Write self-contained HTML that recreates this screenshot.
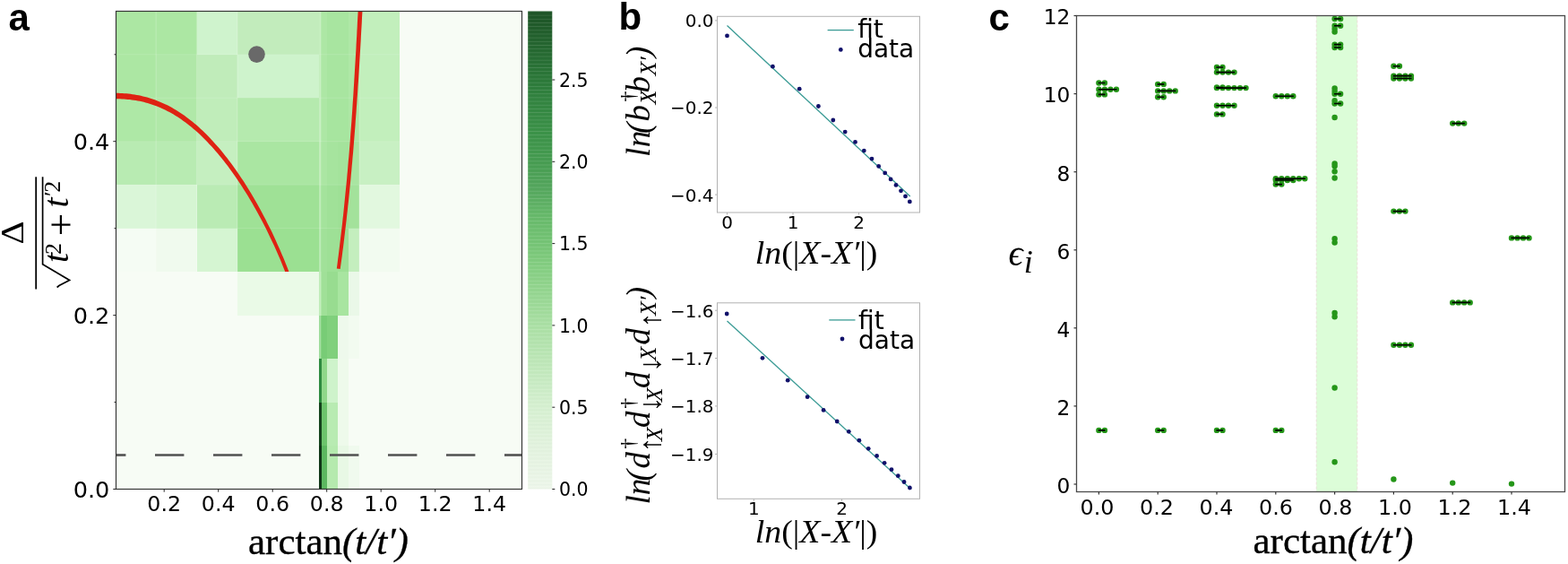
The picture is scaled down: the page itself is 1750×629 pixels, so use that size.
<!DOCTYPE html>
<html lang="en"><head><meta charset="utf-8"><title>Figure</title>
<style>html,body{margin:0;padding:0;background:#fff;overflow:hidden}svg{display:block}</style>
</head><body>
<svg width="1750" height="629" viewBox="0 0 1750 629">
<rect width="1750" height="629" fill="#ffffff"/>
<g id="panel-a">
<rect x="129.5" y="12.5" width="453.0" height="533.0" fill="#f7fcf5"/>
<g shape-rendering="crispEdges">
<rect x="128.75" y="12.27" width="45.38" height="48.48" fill="#ace7a3"/>
<rect x="174.12" y="12.27" width="45.38" height="48.48" fill="#ace7a3"/>
<rect x="219.50" y="12.27" width="45.38" height="48.48" fill="#cff3cd"/>
<rect x="264.88" y="12.27" width="45.38" height="48.48" fill="#c2ecbc"/>
<rect x="310.25" y="12.27" width="45.38" height="48.48" fill="#c2ecbc"/>
<rect x="401.00" y="12.27" width="45.38" height="48.48" fill="#c2efbc"/>
<rect x="355.62" y="12.27" width="3.03" height="48.48" fill="#b6ebaf"/>
<rect x="358.65" y="12.27" width="6.05" height="48.48" fill="#ade7a5"/>
<rect x="364.70" y="12.27" width="12.10" height="48.48" fill="#a8e5a0"/>
<rect x="376.80" y="12.27" width="12.10" height="48.48" fill="#a8e5a0"/>
<rect x="388.90" y="12.27" width="12.10" height="48.48" fill="#aee8a6"/>
<rect x="128.75" y="60.75" width="45.38" height="48.47" fill="#ace7a3"/>
<rect x="174.12" y="60.75" width="45.38" height="48.47" fill="#b0e7a8"/>
<rect x="219.50" y="60.75" width="45.38" height="48.47" fill="#c0ecba"/>
<rect x="264.88" y="60.75" width="45.38" height="48.47" fill="#cef3cc"/>
<rect x="310.25" y="60.75" width="45.38" height="48.47" fill="#cef3cc"/>
<rect x="401.00" y="60.75" width="45.38" height="48.47" fill="#c2efbc"/>
<rect x="355.62" y="60.75" width="3.03" height="48.47" fill="#b6ebaf"/>
<rect x="358.65" y="60.75" width="6.05" height="48.47" fill="#ade7a5"/>
<rect x="364.70" y="60.75" width="12.10" height="48.47" fill="#a8e5a0"/>
<rect x="376.80" y="60.75" width="12.10" height="48.47" fill="#a8e5a0"/>
<rect x="388.90" y="60.75" width="12.10" height="48.47" fill="#aee8a6"/>
<rect x="128.75" y="109.22" width="45.38" height="48.48" fill="#aee8a6"/>
<rect x="174.12" y="109.22" width="45.38" height="48.48" fill="#b0e8a8"/>
<rect x="219.50" y="109.22" width="45.38" height="48.48" fill="#c0edba"/>
<rect x="264.88" y="109.22" width="45.38" height="48.48" fill="#b5eaae"/>
<rect x="310.25" y="109.22" width="45.38" height="48.48" fill="#b5eaae"/>
<rect x="401.00" y="109.22" width="45.38" height="48.48" fill="#c2efbc"/>
<rect x="355.62" y="109.22" width="3.03" height="48.48" fill="#b6ebaf"/>
<rect x="358.65" y="109.22" width="6.05" height="48.48" fill="#ade7a5"/>
<rect x="364.70" y="109.22" width="12.10" height="48.48" fill="#a7e59f"/>
<rect x="376.80" y="109.22" width="12.10" height="48.48" fill="#a7e59f"/>
<rect x="388.90" y="109.22" width="12.10" height="48.48" fill="#ade7a5"/>
<rect x="128.75" y="157.70" width="45.38" height="48.47" fill="#b8ebb2"/>
<rect x="174.12" y="157.70" width="45.38" height="48.47" fill="#b8ebb2"/>
<rect x="219.50" y="157.70" width="45.38" height="48.47" fill="#c5efc0"/>
<rect x="264.88" y="157.70" width="45.38" height="48.47" fill="#aae6a2"/>
<rect x="310.25" y="157.70" width="45.38" height="48.47" fill="#aae6a2"/>
<rect x="401.00" y="157.70" width="45.38" height="48.47" fill="#c8f0c3"/>
<rect x="355.62" y="157.70" width="3.03" height="48.47" fill="#b2e9aa"/>
<rect x="358.65" y="157.70" width="6.05" height="48.47" fill="#abe6a3"/>
<rect x="364.70" y="157.70" width="12.10" height="48.47" fill="#a6e49e"/>
<rect x="376.80" y="157.70" width="12.10" height="48.47" fill="#a4e39c"/>
<rect x="388.90" y="157.70" width="12.10" height="48.47" fill="#a9e5a1"/>
<rect x="128.75" y="206.17" width="45.38" height="48.48" fill="#daf6d8"/>
<rect x="174.12" y="206.17" width="45.38" height="48.48" fill="#d5f5d2"/>
<rect x="219.50" y="206.17" width="45.38" height="48.48" fill="#baebb4"/>
<rect x="264.88" y="206.17" width="45.38" height="48.48" fill="#9fe196"/>
<rect x="310.25" y="206.17" width="45.38" height="48.48" fill="#9fe196"/>
<rect x="401.00" y="206.17" width="45.38" height="48.48" fill="#e2f8df"/>
<rect x="355.62" y="206.17" width="3.03" height="48.48" fill="#aae6a2"/>
<rect x="358.65" y="206.17" width="6.05" height="48.48" fill="#a4e39c"/>
<rect x="364.70" y="206.17" width="12.10" height="48.48" fill="#a0e198"/>
<rect x="376.80" y="206.17" width="12.10" height="48.48" fill="#9ee096"/>
<rect x="388.90" y="206.17" width="12.10" height="48.48" fill="#a3e29b"/>
<rect x="128.75" y="254.65" width="45.38" height="48.48" fill="#f5fcf4"/>
<rect x="174.12" y="254.65" width="45.38" height="48.48" fill="#f0faee"/>
<rect x="219.50" y="254.65" width="45.38" height="48.48" fill="#d5f5d2"/>
<rect x="264.88" y="254.65" width="45.38" height="48.48" fill="#9be092"/>
<rect x="310.25" y="254.65" width="45.38" height="48.48" fill="#9be092"/>
<rect x="401.00" y="254.65" width="45.38" height="48.48" fill="#f2fbf0"/>
<rect x="355.62" y="254.65" width="3.03" height="48.48" fill="#a7e49f"/>
<rect x="358.65" y="254.65" width="6.05" height="48.48" fill="#a1e199"/>
<rect x="364.70" y="254.65" width="12.10" height="48.48" fill="#9ee096"/>
<rect x="376.80" y="254.65" width="12.10" height="48.48" fill="#9de095"/>
<rect x="388.90" y="254.65" width="12.10" height="48.48" fill="#c4eebe"/>
<rect x="264.88" y="303.12" width="45.38" height="48.48" fill="#eafae7"/>
<rect x="310.25" y="303.12" width="45.38" height="48.48" fill="#eafae7"/>
<rect x="355.62" y="303.12" width="3.03" height="48.48" fill="#b0e8a8"/>
<rect x="358.65" y="303.12" width="6.05" height="48.48" fill="#a0e098"/>
<rect x="364.70" y="303.12" width="12.10" height="48.48" fill="#98dc90"/>
<rect x="376.80" y="303.12" width="12.10" height="48.48" fill="#a8e5a0"/>
<rect x="388.90" y="303.12" width="12.10" height="48.48" fill="#eaf8e8"/>
<rect x="355.62" y="351.60" width="3.03" height="48.47" fill="#86d482"/>
<rect x="358.65" y="351.60" width="6.05" height="48.47" fill="#78cc76"/>
<rect x="364.70" y="351.60" width="12.10" height="48.47" fill="#80d07c"/>
<rect x="376.80" y="351.60" width="12.10" height="48.47" fill="#eef9ec"/>
<rect x="388.90" y="351.60" width="12.10" height="48.47" fill="#f2fbf0"/>
<rect x="355.62" y="400.07" width="3.03" height="48.47" fill="#2e8b40"/>
<rect x="358.65" y="400.07" width="6.05" height="48.47" fill="#90d88a"/>
<rect x="364.70" y="400.07" width="12.10" height="48.47" fill="#cef3cb"/>
<rect x="376.80" y="400.07" width="12.10" height="48.47" fill="#eefaeb"/>
<rect x="355.62" y="448.55" width="3.03" height="48.48" fill="#14421c"/>
<rect x="358.65" y="448.55" width="6.05" height="48.48" fill="#6cc46c"/>
<rect x="364.70" y="448.55" width="12.10" height="48.48" fill="#b8ebb2"/>
<rect x="376.80" y="448.55" width="12.10" height="48.48" fill="#eefaeb"/>
<rect x="355.62" y="497.02" width="3.03" height="48.48" fill="#0f3516"/>
<rect x="358.65" y="497.02" width="6.05" height="48.48" fill="#5cb860"/>
<rect x="364.70" y="497.02" width="12.10" height="48.48" fill="#b5eaae"/>
<rect x="376.80" y="497.02" width="12.10" height="48.48" fill="#e8f8e5"/>
<rect x="388.90" y="497.02" width="12.10" height="48.48" fill="#f0faee"/>
</g>
<g stroke="#ffffff" stroke-opacity="0.28" stroke-width="0.8">
<line x1="174.12" y1="12.5" x2="174.12" y2="303.12"/>
<line x1="219.50" y1="12.5" x2="219.50" y2="303.12"/>
<line x1="264.88" y1="12.5" x2="264.88" y2="303.12"/>
<line x1="401.00" y1="12.5" x2="401.00" y2="303.12"/>
<line x1="357.14" y1="12.5" x2="357.14" y2="400.08" stroke-width="1.6"/>
<line x1="129.5" y1="60.75" x2="446.38" y2="60.75" stroke-opacity="0.16"/>
<line x1="129.5" y1="109.22" x2="446.38" y2="109.22" stroke-opacity="0.16"/>
<line x1="129.5" y1="157.70" x2="446.38" y2="157.70" stroke-opacity="0.16"/>
<line x1="129.5" y1="206.17" x2="446.38" y2="206.17" stroke-opacity="0.16"/>
<line x1="129.5" y1="254.65" x2="446.38" y2="254.65" stroke-opacity="0.16"/>
</g>
<g stroke="#505050" stroke-width="2.6">
<line x1="129.5" y1="507.5" x2="140.4" y2="507.5"/>
<line x1="173.0" y1="507.5" x2="205.4" y2="507.5"/>
<line x1="238.0" y1="507.5" x2="270.4" y2="507.5"/>
<line x1="303.0" y1="507.5" x2="335.4" y2="507.5"/>
<line x1="368.0" y1="507.5" x2="400.4" y2="507.5"/>
<line x1="433.0" y1="507.5" x2="465.4" y2="507.5"/>
<line x1="498.0" y1="507.5" x2="530.4" y2="507.5"/>
<line x1="563.0" y1="507.5" x2="582.5" y2="507.5"/>
</g>
<clipPath id="clipa"><rect x="129.5" y="12.5" width="453.0" height="290.5"/></clipPath>
<g clip-path="url(#clipa)">
<polygon fill="#de2213" points="122.7,110.2 124.9,110.2 127.1,110.2 129.4,110.3 131.7,110.3 133.9,110.3 136.1,110.4 138.3,110.5 140.5,110.7 142.7,110.9 144.9,111.1 147.1,111.4 149.3,111.7 151.6,112.0 153.8,112.4 156.0,112.8 158.2,113.3 160.4,113.8 162.6,114.4 164.8,115.0 167.0,115.7 169.2,116.4 171.4,117.2 173.6,118.0 175.8,118.8 178.1,119.7 180.3,120.7 182.5,121.7 184.7,122.8 186.9,123.9 189.1,125.1 191.4,126.3 193.6,127.6 195.8,128.9 198.0,130.3 200.3,131.8 202.5,133.3 204.7,134.9 207.0,136.5 209.2,138.2 211.4,140.0 213.7,141.8 215.9,143.7 218.1,145.6 220.4,147.6 222.6,149.6 224.9,151.8 227.1,153.9 229.4,156.2 231.6,158.5 233.8,160.9 236.1,163.3 238.3,165.8 240.6,168.4 242.9,171.0 245.1,173.7 247.4,176.5 249.6,179.3 251.9,182.2 254.1,185.1 256.4,188.2 258.6,191.3 260.9,194.4 263.2,197.7 265.4,201.0 267.7,204.4 269.9,207.8 272.2,211.4 274.5,215.0 276.7,218.6 279.0,222.4 281.3,226.3 283.5,230.2 285.8,234.2 288.0,238.3 290.3,242.5 292.6,246.7 294.8,251.1 297.1,255.6 299.4,260.2 301.6,264.9 303.9,269.7 306.2,274.6 308.4,279.6 310.7,284.8 313.0,290.1 315.2,295.6 317.5,301.3 319.8,307.2 322.0,313.7 325.7,312.4 323.5,305.9 321.2,299.8 318.9,294.1 316.7,288.6 314.4,283.2 312.2,278.0 309.9,272.9 307.7,267.9 305.4,263.1 303.2,258.3 300.9,253.7 298.6,249.2 296.4,244.8 294.1,240.4 291.9,236.2 289.6,232.1 287.4,228.0 285.1,224.0 282.8,220.1 280.6,216.3 278.3,212.6 276.1,208.9 273.8,205.3 271.6,201.8 269.3,198.4 267.0,195.0 264.8,191.7 262.5,188.5 260.2,185.3 258.0,182.3 255.7,179.2 253.5,176.3 251.2,173.4 248.9,170.6 246.7,167.8 244.4,165.1 242.1,162.5 239.8,159.9 237.6,157.4 235.3,155.0 233.0,152.6 230.8,150.3 228.5,148.0 226.2,145.8 223.9,143.7 221.6,141.6 219.4,139.6 217.1,137.7 214.8,135.8 212.5,133.9 210.2,132.2 207.9,130.5 205.7,128.8 203.4,127.2 201.1,125.7 198.8,124.2 196.5,122.8 194.2,121.4 191.9,120.1 189.6,118.8 187.3,117.6 185.0,116.5 182.7,115.4 180.4,114.4 178.1,113.4 175.7,112.5 173.4,111.6 171.1,110.7 168.8,110.0 166.5,109.2 164.2,108.6 161.9,107.9 159.6,107.4 157.2,106.8 154.9,106.3 152.6,105.9 150.3,105.5 148.0,105.2 145.7,104.8 143.4,104.6 141.0,104.3 138.7,104.2 136.4,104.0 134.1,103.9 131.8,103.8 129.5,103.8 127.3,103.7 125.0,103.6 122.7,103.6"/>
<polygon fill="#de2213" points="399.9,4.9 399.7,9.9 399.5,14.9 399.2,19.9 398.9,24.9 398.7,29.9 398.4,34.9 398.2,39.8 397.9,44.8 397.6,49.8 397.4,54.8 397.1,59.8 396.8,64.8 396.5,69.8 396.2,74.8 395.9,79.8 395.6,84.8 395.3,89.8 395.0,94.8 394.7,99.8 394.4,104.8 394.1,109.8 393.7,114.8 393.4,119.8 393.1,124.8 392.7,129.8 392.4,134.7 392.0,139.7 391.6,144.7 391.2,149.7 390.9,154.7 390.5,159.7 390.1,164.7 389.7,169.7 389.3,174.7 388.8,179.7 388.4,184.7 388.0,189.7 387.5,194.7 387.1,199.7 386.6,204.7 386.1,209.7 385.6,214.6 385.1,219.6 384.6,224.6 384.1,229.6 383.6,234.6 383.1,239.6 382.5,244.6 382.0,249.6 381.4,254.6 380.8,259.6 380.2,264.6 379.6,269.6 379.0,274.6 378.4,279.6 377.8,284.5 377.1,289.5 376.5,294.5 375.8,299.5 379.7,300.1 380.4,295.1 381.1,290.1 381.8,285.1 382.4,280.1 383.1,275.1 383.7,270.1 384.3,265.1 384.9,260.1 385.5,255.1 386.1,250.1 386.7,245.1 387.2,240.1 387.8,235.1 388.3,230.1 388.9,225.1 389.4,220.1 389.9,215.1 390.4,210.1 390.9,205.1 391.4,200.1 391.8,195.1 392.3,190.1 392.7,185.1 393.2,180.1 393.6,175.1 394.1,170.1 394.5,165.1 394.9,160.1 395.3,155.1 395.7,150.1 396.1,145.1 396.5,140.1 396.8,135.1 397.2,130.1 397.6,125.1 397.9,120.1 398.3,115.1 398.6,110.1 399.0,105.1 399.3,100.1 399.6,95.1 400.0,90.1 400.3,85.1 400.6,80.1 400.9,75.1 401.2,70.1 401.5,65.1 401.8,60.1 402.1,55.1 402.4,50.1 402.7,45.1 402.9,40.1 403.2,35.1 403.5,30.1 403.8,25.1 404.0,20.1 404.3,15.1 404.6,10.1 404.8,5.1"/>
</g>
<circle cx="286.5" cy="60.6" r="9.3" fill="#696969"/>
<rect x="129.5" y="12.5" width="453.0" height="533.0" fill="none" stroke="#333" stroke-width="1.15"/>
<g stroke="#222" stroke-width="1">
<line x1="183.2" y1="545.5" x2="183.2" y2="548.7"/>
<line x1="243.7" y1="545.5" x2="243.7" y2="548.7"/>
<line x1="304.2" y1="545.5" x2="304.2" y2="548.7"/>
<line x1="364.7" y1="545.5" x2="364.7" y2="548.7"/>
<line x1="425.2" y1="545.5" x2="425.2" y2="548.7"/>
<line x1="485.7" y1="545.5" x2="485.7" y2="548.7"/>
<line x1="546.2" y1="545.5" x2="546.2" y2="548.7"/>
<line x1="129.5" y1="545.5" x2="126.3" y2="545.5"/>
<line x1="129.5" y1="351.6" x2="126.3" y2="351.6"/>
<line x1="129.5" y1="157.7" x2="126.3" y2="157.7"/>
<line x1="129.5" y1="448.6" x2="127.5" y2="448.6"/>
<line x1="129.5" y1="254.7" x2="127.5" y2="254.7"/>
<line x1="129.5" y1="60.8" x2="127.5" y2="60.8"/>
</g>
<g font-family="'DejaVu Sans','Liberation Sans',sans-serif" font-size="22.8" text-anchor="middle" fill="#000">
<text transform="translate(183.2,570.2) scale(1.04,1)">0.2</text>
<text transform="translate(243.7,570.2) scale(1.04,1)">0.4</text>
<text transform="translate(304.2,570.2) scale(1.04,1)">0.6</text>
<text transform="translate(364.7,570.2) scale(1.04,1)">0.8</text>
<text transform="translate(425.2,570.2) scale(1.04,1)">1.0</text>
<text transform="translate(485.7,570.2) scale(1.04,1)">1.2</text>
<text transform="translate(546.2,570.2) scale(1.04,1)">1.4</text>
</g>
<g font-family="'DejaVu Sans','Liberation Sans',sans-serif" font-size="24.6" text-anchor="end" fill="#000">
<text transform="translate(122.3,554.6) scale(1.04,1)">0.0</text>
<text transform="translate(122.3,360.7) scale(1.04,1)">0.2</text>
<text transform="translate(122.3,166.8) scale(1.04,1)">0.4</text>
</g>
<text x="9.5" y="34" font-family="'Liberation Sans','DejaVu Sans',sans-serif" font-weight="bold" font-size="42">a</text>
<text x="277" y="618" font-family="'Liberation Serif','DejaVu Serif',serif" font-size="43" stroke="#000" stroke-width="0.35">arctan<tspan font-style="italic">(t/t′)</tspan></text>
<g transform="translate(0,0)">
<line x1="40.2" y1="197.3" x2="40.2" y2="322.5" stroke="#000" stroke-width="1.8"/>
<path d="M63.6 320.5 L66 318.5 L77.6 312.5 L47.6 294.8 L47.6 197.3" fill="none" stroke="#000" stroke-width="1.7" stroke-linejoin="miter"/>
<g font-family="'Liberation Serif','DejaVu Serif',serif" fill="#000">
<text transform="translate(26.2,272.6) rotate(-90) scale(1.14,1)" font-size="35.5">Δ</text>
<text transform="translate(76.3,293) rotate(-90)" font-size="40" font-style="italic">t</text>
<text transform="translate(67.6,284) rotate(-90)" font-size="26">2</text>
<text transform="translate(83.2,263.2) rotate(-90)" font-size="45">+</text>
<text transform="translate(76.3,231.5) rotate(-90)" font-size="40" font-style="italic">t</text>
<text transform="translate(67.4,220.5) rotate(-90)" font-size="26"><tspan font-style="italic">′</tspan>2</text>
</g></g>
<defs><linearGradient id="cb" x1="0" y1="1" x2="0" y2="0">
<stop offset="0.0000" stop-color="#edf6ea"/>
<stop offset="0.0853" stop-color="#e3f3df"/>
<stop offset="0.1706" stop-color="#d6f0d1"/>
<stop offset="0.3413" stop-color="#abe0a5"/>
<stop offset="0.4608" stop-color="#86cf83"/>
<stop offset="0.5119" stop-color="#76c576"/>
<stop offset="0.5734" stop-color="#66b96a"/>
<stop offset="0.6280" stop-color="#55a75e"/>
<stop offset="0.6826" stop-color="#479d52"/>
<stop offset="0.7406" stop-color="#3c9349"/>
<stop offset="0.8191" stop-color="#328340"/>
<stop offset="0.8532" stop-color="#2c7a3a"/>
<stop offset="1.0000" stop-color="#1d5326"/>
</linearGradient>
<pattern id="stripe" width="8" height="4.172" patternUnits="userSpaceOnUse"><rect width="8" height="0.8" fill="#fff" fill-opacity="0.13"/><rect y="2.1" width="8" height="0.6" fill="#000" fill-opacity="0.025"/></pattern></defs>
<rect x="589.2" y="12.5" width="27.09999999999991" height="533.0" fill="url(#cb)"/>
<rect x="589.2" y="12.5" width="27.09999999999991" height="533.0" fill="url(#stripe)"/>
<g stroke="#222" stroke-width="1">
<line x1="616.3" y1="545.5" x2="619.3" y2="545.5"/>
<line x1="616.3" y1="454.2" x2="619.3" y2="454.2"/>
<line x1="616.3" y1="362.9" x2="619.3" y2="362.9"/>
<line x1="616.3" y1="271.6" x2="619.3" y2="271.6"/>
<line x1="616.3" y1="180.3" x2="619.3" y2="180.3"/>
<line x1="616.3" y1="89.0" x2="619.3" y2="89.0"/>
</g>
<g font-family="'DejaVu Sans','Liberation Sans',sans-serif" font-size="20.5" fill="#000">
<text x="624" y="553.1">0.0</text>
<text x="624" y="461.8">0.5</text>
<text x="624" y="370.5">1.0</text>
<text x="624" y="279.2">1.5</text>
<text x="624" y="187.9">2.0</text>
<text x="624" y="96.6">2.5</text>
</g>
</g>
<g id="panel-b">
<text x="690.5" y="32.6" font-family="'Liberation Sans','DejaVu Sans',sans-serif" font-weight="bold" font-size="42">b</text>
<rect x="800.5" y="18.3" width="226.0" height="218.7" fill="#fff" stroke="#b2b2b2" stroke-width="1"/>
<line x1="811.5" y1="28.5" x2="1015.8" y2="218.9" stroke="#3a9b95" stroke-width="1.3"/>
<g fill="#10106a">
<circle cx="811.5" cy="39.9" r="2.4"/>
<circle cx="862.4" cy="74.2" r="2.4"/>
<circle cx="892.2" cy="99.2" r="2.4"/>
<circle cx="913.4" cy="118.5" r="2.4"/>
<circle cx="929.8" cy="134" r="2.4"/>
<circle cx="943.2" cy="147.1" r="2.4"/>
<circle cx="954.5" cy="158.4" r="2.4"/>
<circle cx="964.3" cy="168.1" r="2.4"/>
<circle cx="973.0" cy="177.1" r="2.4"/>
<circle cx="980.7" cy="185.4" r="2.4"/>
<circle cx="987.7" cy="192.9" r="2.4"/>
<circle cx="994.1" cy="199.9" r="2.4"/>
<circle cx="1000.0" cy="206.4" r="2.4"/>
<circle cx="1005.5" cy="212.8" r="2.4"/>
<circle cx="1010.5" cy="218.9" r="2.4"/>
<circle cx="1015.3" cy="224.9" r="2.4"/>
</g>
<g stroke="#b2b2b2" stroke-width="1">
<line x1="811.5" y1="237.0" x2="811.5" y2="239.5"/>
<line x1="885" y1="237.0" x2="885" y2="239.5"/>
<line x1="958.5" y1="237.0" x2="958.5" y2="239.5"/>
<line x1="800.5" y1="22.9" x2="798.0" y2="22.9"/>
<line x1="800.5" y1="120" x2="798.0" y2="120"/>
<line x1="800.5" y1="217.1" x2="798.0" y2="217.1"/>
</g>
<g font-family="'DejaVu Sans','Liberation Sans',sans-serif" font-size="20" fill="#000" text-anchor="middle">
<text x="811.5" y="255.4">0</text>
<text x="885" y="255.4">1</text>
<text x="958.5" y="255.4">2</text>
</g>
<g font-family="'DejaVu Sans','Liberation Sans',sans-serif" font-size="20" fill="#000" text-anchor="end">
<text x="796.5" y="30.3">0.0</text>
<text x="796.5" y="127.4">−0.2</text>
<text x="796.5" y="224.5">−0.4</text>
</g>
<line x1="923.6" y1="33.6" x2="952.8" y2="33.6" stroke="#3a9b95" stroke-width="1.3"/>
<circle cx="938.3" cy="55.4" r="2.4" fill="#10106a"/>
<text x="957.2" y="42.0" font-family="'DejaVu Sans','Liberation Sans',sans-serif" font-size="28">fit</text>
<text x="957.2" y="63.6" font-family="'DejaVu Sans','Liberation Sans',sans-serif" font-size="28">data</text>
<text transform="translate(842.8,294.4) scale(1.035,1)" font-family="'Liberation Serif','DejaVu Serif',serif" font-size="36.5"><tspan font-style="italic">ln</tspan>(|<tspan font-style="italic">X-X′</tspan>|)</text>
<g transform="translate(724.8,175.1) rotate(-90)" font-family="'Liberation Serif','DejaVu Serif',serif" fill="#000">
<text x="0.0" y="0.0" font-size="37" font-style="italic">l</text>
<text x="10.8" y="0.0" font-size="37" font-style="italic">n</text>
<text x="26.1" y="0.0" font-size="37" font-style="italic">(</text>
<text x="39.5" y="0.0" font-size="37" font-style="italic">b</text>
<text x="58.6" y="7.2" font-size="26" font-style="italic">X</text>
<text x="61.5" y="-15.5" font-size="24">†</text>
<text x="71.6" y="0.0" font-size="37" font-style="italic">b</text>
<text x="90.6" y="7.2" font-size="26" font-style="italic">X</text>
<text x="106.2" y="7.2" font-size="26" font-style="italic">′</text>
<text x="111.2" y="0.0" font-size="37" font-style="italic">)</text>
</g>
<rect x="800.5" y="337.8" width="226.0" height="218.49999999999994" fill="#fff" stroke="#b2b2b2" stroke-width="1"/>
<line x1="811.5" y1="358.1" x2="1015" y2="544" stroke="#3a9b95" stroke-width="1.3"/>
<g fill="#10106a">
<circle cx="811.2" cy="350" r="2.4"/>
<circle cx="851.0" cy="399.3" r="2.4"/>
<circle cx="879.2" cy="424.2" r="2.4"/>
<circle cx="901.1" cy="442.7" r="2.4"/>
<circle cx="919.1" cy="457.4" r="2.4"/>
<circle cx="934.2" cy="470" r="2.4"/>
<circle cx="947.3" cy="481.3" r="2.4"/>
<circle cx="958.9" cy="491.2" r="2.4"/>
<circle cx="969.2" cy="500.3" r="2.4"/>
<circle cx="978.6" cy="508.4" r="2.4"/>
<circle cx="987.1" cy="516.3" r="2.4"/>
<circle cx="995.0" cy="523.7" r="2.4"/>
<circle cx="1002.3" cy="530.7" r="2.4"/>
<circle cx="1009.0" cy="537.5" r="2.4"/>
<circle cx="1015.4" cy="544" r="2.4"/>
</g>
<g stroke="#b2b2b2" stroke-width="1">
<line x1="841.3" y1="556.3" x2="841.3" y2="558.8"/>
<line x1="939.5" y1="556.3" x2="939.5" y2="558.8"/>
<line x1="800.5" y1="346.2" x2="798.0" y2="346.2"/>
<line x1="800.5" y1="399.5" x2="798.0" y2="399.5"/>
<line x1="800.5" y1="452.9" x2="798.0" y2="452.9"/>
<line x1="800.5" y1="506.4" x2="798.0" y2="506.4"/>
</g>
<g font-family="'DejaVu Sans','Liberation Sans',sans-serif" font-size="20" fill="#000" text-anchor="middle">
<text x="841.3" y="574">1</text>
<text x="939.5" y="574">2</text>
</g>
<g font-family="'DejaVu Sans','Liberation Sans',sans-serif" font-size="20" fill="#000" text-anchor="end">
<text x="796.5" y="353.6">−1.6</text>
<text x="796.5" y="406.9">−1.7</text>
<text x="796.5" y="460.3">−1.8</text>
<text x="796.5" y="513.8">−1.9</text>
</g>
<line x1="925.3000000000001" y1="356.9" x2="954.5" y2="356.9" stroke="#3a9b95" stroke-width="1.3"/>
<circle cx="940.0" cy="378.0" r="2.4" fill="#10106a"/>
<text x="958.0500000000001" y="367.0" font-family="'DejaVu Sans','Liberation Sans',sans-serif" font-size="28">fit</text>
<text x="958.0500000000001" y="389.2" font-family="'DejaVu Sans','Liberation Sans',sans-serif" font-size="28">data</text>
<text transform="translate(842.8,604.6) scale(1.035,1)" font-family="'Liberation Serif','DejaVu Serif',serif" font-size="36.5"><tspan font-style="italic">ln</tspan>(|<tspan font-style="italic">X-X′</tspan>|)</text>
<g transform="translate(724.8,562.5) rotate(-90)" font-family="'Liberation Serif','DejaVu Serif',serif" fill="#000">
<text x="0.0" y="0.0" font-size="37" font-style="italic">l</text>
<text x="10.2" y="0.0" font-size="37" font-style="italic">n</text>
<text x="26.1" y="0.0" font-size="37" font-style="italic">(</text>
<text x="40.1" y="0.0" font-size="37" font-style="italic">d</text>
<text x="61.8" y="-15.5" font-size="24">†</text>
<text x="58.0" y="11.7" font-size="34">↑</text>
<text x="70.3" y="14.2" font-size="26" font-style="italic">X</text>
<text x="85.6" y="0.0" font-size="37" font-style="italic">d</text>
<text x="106.7" y="-15.5" font-size="24">†</text>
<text x="102.9" y="11.7" font-size="34">↓</text>
<text x="114.3" y="14.2" font-size="26" font-style="italic">X</text>
<text x="129.6" y="0.0" font-size="37" font-style="italic">d</text>
<text x="147.4" y="11.7" font-size="34">↓</text>
<text x="160.1" y="7.2" font-size="26" font-style="italic">X</text>
<text x="176.2" y="7.2" font-size="26" font-style="italic">′</text>
<text x="178.1" y="0.0" font-size="37" font-style="italic">d</text>
<text x="196.9" y="11.7" font-size="34">↑</text>
<text x="210.6" y="7.2" font-size="26" font-style="italic">X</text>
<text x="226.3" y="7.2" font-size="26" font-style="italic">′</text>
<text x="230.3" y="0.0" font-size="37" font-style="italic">)</text>
</g>
</g>
<g id="panel-c">
<text x="1103.5" y="34" font-family="'Liberation Sans','DejaVu Sans',sans-serif" font-weight="bold" font-size="42">c</text>
<rect x="1469.2" y="17.5" width="45.6" height="531.0" fill="#dcfdd8"/>
<g stroke="#e9d9d4" stroke-width="0.8" stroke-dasharray="3 2"><line x1="1469.2" y1="17.5" x2="1469.2" y2="548.5"/><line x1="1514.8" y1="17.5" x2="1514.8" y2="548.5"/></g>
<clipPath id="clipc"><rect x="1201.5" y="17.5" width="545.0" height="531.0"/></clipPath>
<g clip-path="url(#clipc)">
<g fill="#259619">
<circle cx="1226.4" cy="92.5" r="3.2"/>
<circle cx="1232.9" cy="92.5" r="3.2"/>
<circle cx="1226.4" cy="99.8" r="3.2"/>
<circle cx="1232.9" cy="99.8" r="3.2"/>
<circle cx="1239.4" cy="99.8" r="3.2"/>
<circle cx="1245.9" cy="99.8" r="3.2"/>
<circle cx="1226.4" cy="105.4" r="3.2"/>
<circle cx="1232.9" cy="105.4" r="3.2"/>
<circle cx="1226.4" cy="479.9" r="3.2"/>
<circle cx="1232.9" cy="479.9" r="3.2"/>
<circle cx="1292.2" cy="93.9" r="3.2"/>
<circle cx="1298.7" cy="93.9" r="3.2"/>
<circle cx="1292.2" cy="101.4" r="3.2"/>
<circle cx="1298.7" cy="101.4" r="3.2"/>
<circle cx="1305.2" cy="101.4" r="3.2"/>
<circle cx="1311.7" cy="101.4" r="3.2"/>
<circle cx="1292.2" cy="108.3" r="3.2"/>
<circle cx="1298.7" cy="108.3" r="3.2"/>
<circle cx="1292.2" cy="479.9" r="3.2"/>
<circle cx="1298.7" cy="479.9" r="3.2"/>
<circle cx="1358.0" cy="75" r="3.2"/>
<circle cx="1364.5" cy="75" r="3.2"/>
<circle cx="1358.0" cy="80.6" r="3.2"/>
<circle cx="1364.5" cy="80.6" r="3.2"/>
<circle cx="1371.0" cy="80.6" r="3.2"/>
<circle cx="1377.5" cy="80.6" r="3.2"/>
<circle cx="1358.0" cy="98.1" r="3.2"/>
<circle cx="1364.5" cy="98.1" r="3.2"/>
<circle cx="1371.0" cy="98.1" r="3.2"/>
<circle cx="1377.5" cy="98.1" r="3.2"/>
<circle cx="1384.0" cy="98.1" r="3.2"/>
<circle cx="1390.5" cy="98.1" r="3.2"/>
<circle cx="1358.0" cy="97.5" r="3.2"/>
<circle cx="1364.5" cy="97.5" r="3.2"/>
<circle cx="1358.0" cy="117.7" r="3.2"/>
<circle cx="1364.5" cy="117.7" r="3.2"/>
<circle cx="1371.0" cy="117.7" r="3.2"/>
<circle cx="1377.5" cy="117.7" r="3.2"/>
<circle cx="1358.0" cy="127.4" r="3.2"/>
<circle cx="1364.5" cy="127.4" r="3.2"/>
<circle cx="1358.0" cy="479.9" r="3.2"/>
<circle cx="1364.5" cy="479.9" r="3.2"/>
<circle cx="1423.8" cy="107.3" r="3.2"/>
<circle cx="1430.3" cy="107.3" r="3.2"/>
<circle cx="1436.8" cy="107.3" r="3.2"/>
<circle cx="1443.3" cy="107.3" r="3.2"/>
<circle cx="1423.8" cy="199.3" r="3.2"/>
<circle cx="1430.3" cy="199.3" r="3.2"/>
<circle cx="1436.8" cy="199.3" r="3.2"/>
<circle cx="1443.3" cy="199.3" r="3.2"/>
<circle cx="1449.8" cy="199.3" r="3.2"/>
<circle cx="1456.3" cy="199.3" r="3.2"/>
<circle cx="1423.8" cy="201" r="3.2"/>
<circle cx="1430.3" cy="201" r="3.2"/>
<circle cx="1436.8" cy="201" r="3.2"/>
<circle cx="1443.3" cy="201" r="3.2"/>
<circle cx="1423.8" cy="205.6" r="3.2"/>
<circle cx="1430.3" cy="205.6" r="3.2"/>
<circle cx="1423.8" cy="479.9" r="3.2"/>
<circle cx="1430.3" cy="479.9" r="3.2"/>
<circle cx="1489.6" cy="21" r="3.2"/>
<circle cx="1496.1" cy="21" r="3.2"/>
<circle cx="1489.6" cy="28.7" r="3.2"/>
<circle cx="1496.1" cy="28.7" r="3.2"/>
<circle cx="1489.6" cy="49.6" r="3.2"/>
<circle cx="1496.1" cy="49.6" r="3.2"/>
<circle cx="1489.6" cy="53" r="3.2"/>
<circle cx="1496.1" cy="53" r="3.2"/>
<circle cx="1489.6" cy="104.8" r="3.2"/>
<circle cx="1496.1" cy="104.8" r="3.2"/>
<circle cx="1489.6" cy="115.5" r="3.2"/>
<circle cx="1496.1" cy="115.5" r="3.2"/>
<circle cx="1489.6" cy="32.1" r="3.2"/>
<circle cx="1489.6" cy="35.5" r="3.2"/>
<circle cx="1489.6" cy="98.5" r="3.2"/>
<circle cx="1489.6" cy="101.8" r="3.2"/>
<circle cx="1489.6" cy="112.2" r="3.2"/>
<circle cx="1489.6" cy="131" r="3.2"/>
<circle cx="1489.6" cy="182.5" r="3.2"/>
<circle cx="1489.6" cy="185.2" r="3.2"/>
<circle cx="1489.6" cy="191.3" r="3.2"/>
<circle cx="1489.6" cy="198.5" r="3.2"/>
<circle cx="1489.6" cy="266.2" r="3.2"/>
<circle cx="1489.6" cy="270.5" r="3.2"/>
<circle cx="1489.6" cy="348.9" r="3.2"/>
<circle cx="1489.6" cy="353.2" r="3.2"/>
<circle cx="1489.6" cy="432.5" r="3.2"/>
<circle cx="1489.6" cy="515.2" r="3.2"/>
<circle cx="1555.4" cy="73.8" r="3.2"/>
<circle cx="1561.9" cy="73.8" r="3.2"/>
<circle cx="1555.4" cy="84.6" r="3.2"/>
<circle cx="1561.9" cy="84.6" r="3.2"/>
<circle cx="1568.4" cy="84.6" r="3.2"/>
<circle cx="1574.9" cy="84.6" r="3.2"/>
<circle cx="1555.4" cy="87.5" r="3.2"/>
<circle cx="1561.9" cy="87.5" r="3.2"/>
<circle cx="1568.4" cy="87.5" r="3.2"/>
<circle cx="1574.9" cy="87.5" r="3.2"/>
<circle cx="1555.4" cy="235.6" r="3.2"/>
<circle cx="1561.9" cy="235.6" r="3.2"/>
<circle cx="1568.4" cy="235.6" r="3.2"/>
<circle cx="1555.4" cy="384.7" r="3.2"/>
<circle cx="1561.9" cy="384.7" r="3.2"/>
<circle cx="1568.4" cy="384.7" r="3.2"/>
<circle cx="1574.9" cy="384.7" r="3.2"/>
<circle cx="1555.4" cy="534.5" r="3.2"/>
<circle cx="1621.2" cy="137.6" r="3.2"/>
<circle cx="1627.7" cy="137.6" r="3.2"/>
<circle cx="1634.2" cy="137.6" r="3.2"/>
<circle cx="1621.2" cy="337.4" r="3.2"/>
<circle cx="1627.7" cy="337.4" r="3.2"/>
<circle cx="1634.2" cy="337.4" r="3.2"/>
<circle cx="1640.7" cy="337.4" r="3.2"/>
<circle cx="1621.2" cy="538.6" r="3.2"/>
<circle cx="1687.0" cy="265.4" r="3.2"/>
<circle cx="1693.5" cy="265.4" r="3.2"/>
<circle cx="1700.0" cy="265.4" r="3.2"/>
<circle cx="1706.5" cy="265.4" r="3.2"/>
<circle cx="1687.0" cy="539.6" r="3.2"/>
</g>
<g stroke="#000" stroke-width="1.6">
<line x1="1225.8" y1="92.5" x2="1233.5" y2="92.5"/>
<line x1="1225.8" y1="99.8" x2="1246.5" y2="99.8"/>
<line x1="1225.8" y1="105.4" x2="1233.5" y2="105.4"/>
<line x1="1225.8" y1="479.9" x2="1233.5" y2="479.9"/>
<line x1="1291.6" y1="93.9" x2="1299.3" y2="93.9"/>
<line x1="1291.6" y1="101.4" x2="1312.3" y2="101.4"/>
<line x1="1291.6" y1="108.3" x2="1299.3" y2="108.3"/>
<line x1="1291.6" y1="479.9" x2="1299.3" y2="479.9"/>
<line x1="1357.4" y1="75" x2="1365.1" y2="75"/>
<line x1="1357.4" y1="80.6" x2="1378.1" y2="80.6"/>
<line x1="1357.4" y1="98.1" x2="1391.1" y2="98.1"/>
<line x1="1357.4" y1="97.5" x2="1365.1" y2="97.5"/>
<line x1="1357.4" y1="117.7" x2="1378.1" y2="117.7"/>
<line x1="1357.4" y1="127.4" x2="1365.1" y2="127.4"/>
<line x1="1357.4" y1="479.9" x2="1365.1" y2="479.9"/>
<line x1="1423.2" y1="107.3" x2="1443.9" y2="107.3"/>
<line x1="1423.2" y1="199.3" x2="1456.9" y2="199.3"/>
<line x1="1423.2" y1="201" x2="1443.9" y2="201"/>
<line x1="1423.2" y1="205.6" x2="1430.9" y2="205.6"/>
<line x1="1423.2" y1="479.9" x2="1430.9" y2="479.9"/>
<line x1="1489.0" y1="21" x2="1496.7" y2="21"/>
<line x1="1489.0" y1="28.7" x2="1496.7" y2="28.7"/>
<line x1="1489.0" y1="49.6" x2="1496.7" y2="49.6"/>
<line x1="1489.0" y1="53" x2="1496.7" y2="53"/>
<line x1="1489.0" y1="104.8" x2="1496.7" y2="104.8"/>
<line x1="1489.0" y1="115.5" x2="1496.7" y2="115.5"/>
<line x1="1554.8" y1="73.8" x2="1562.5" y2="73.8"/>
<line x1="1554.8" y1="84.6" x2="1575.5" y2="84.6"/>
<line x1="1554.8" y1="87.5" x2="1575.5" y2="87.5"/>
<line x1="1554.8" y1="235.6" x2="1569.0" y2="235.6"/>
<line x1="1554.8" y1="384.7" x2="1575.5" y2="384.7"/>
<line x1="1620.6" y1="137.6" x2="1634.8" y2="137.6"/>
<line x1="1620.6" y1="337.4" x2="1641.3" y2="337.4"/>
<line x1="1686.4" y1="265.4" x2="1707.1" y2="265.4"/>
</g></g>
<rect x="1201.5" y="17.5" width="545.0" height="531.0" fill="none" stroke="#4a4a4a" stroke-width="1.3"/>
<g stroke="#333" stroke-width="1.2">
<line x1="1226.4" y1="548.5" x2="1226.4" y2="551.5"/>
<line x1="1292.2" y1="548.5" x2="1292.2" y2="551.5"/>
<line x1="1358.0" y1="548.5" x2="1358.0" y2="551.5"/>
<line x1="1423.8" y1="548.5" x2="1423.8" y2="551.5"/>
<line x1="1489.6" y1="548.5" x2="1489.6" y2="551.5"/>
<line x1="1555.4" y1="548.5" x2="1555.4" y2="551.5"/>
<line x1="1621.2" y1="548.5" x2="1621.2" y2="551.5"/>
<line x1="1687.0" y1="548.5" x2="1687.0" y2="551.5"/>
<line x1="1201.5" y1="540.0" x2="1198.5" y2="540.0"/>
<line x1="1201.5" y1="452.9" x2="1198.5" y2="452.9"/>
<line x1="1201.5" y1="365.8" x2="1198.5" y2="365.8"/>
<line x1="1201.5" y1="278.8" x2="1198.5" y2="278.8"/>
<line x1="1201.5" y1="191.7" x2="1198.5" y2="191.7"/>
<line x1="1201.5" y1="104.6" x2="1198.5" y2="104.6"/>
<line x1="1201.5" y1="17.5" x2="1198.5" y2="17.5"/>
</g>
<g font-family="'DejaVu Sans','Liberation Sans',sans-serif" font-size="23.8" fill="#000" text-anchor="middle">
<text x="1224.5" y="574.2">0.0</text>
<text x="1291.0" y="574.2">0.2</text>
<text x="1357.5" y="574.2">0.4</text>
<text x="1424.0" y="574.2">0.6</text>
<text x="1490.5" y="574.2">0.8</text>
<text x="1557.0" y="574.2">1.0</text>
<text x="1623.5" y="574.2">1.2</text>
<text x="1690.0" y="574.2">1.4</text>
</g>
<g font-family="'DejaVu Sans','Liberation Sans',sans-serif" font-size="23.3" fill="#000" text-anchor="end">
<text x="1194.3" y="549.8">0</text>
<text x="1194.3" y="462.7">2</text>
<text x="1194.3" y="375.6">4</text>
<text x="1194.3" y="288.6">6</text>
<text x="1194.3" y="201.5">8</text>
<text x="1194.3" y="114.4">10</text>
<text x="1194.3" y="27.3">12</text>
</g>
<text x="1398.5" y="617.2" font-family="'Liberation Serif','DejaVu Serif',serif" font-size="43" stroke="#000" stroke-width="0.35">arctan<tspan font-style="italic">(t/t′)</tspan></text>
<text x="1125.5" y="295.8" font-family="'Liberation Serif','DejaVu Serif',serif" font-size="40" font-style="italic">ϵ<tspan font-size="36" dy="8.2" dx="1">i</tspan></text>
</g>
</svg>
</body></html>
